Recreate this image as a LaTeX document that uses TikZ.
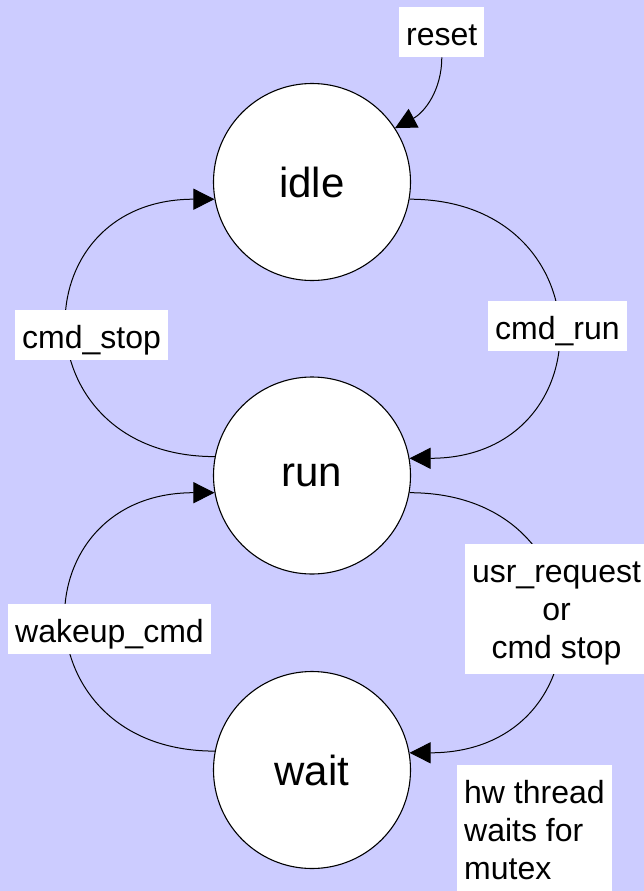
\documentclass[tikz,border=0pt]{standalone}
\usepackage{fontspec}
\setmainfont{Liberation Sans}
\usetikzlibrary{arrows.meta}
\definecolor{bgcol}{HTML}{CCCCFF}
\tikzset{
  state/.style={circle, draw=black, fill=white, line width=1.1pt, minimum size=197pt, inner sep=0pt, font=\fontsize{42}{50}\selectfont},
  lab/.style={fill=white, inner xsep=7pt, inner ysep=0pt, text height=38pt, text depth=12pt, font=\fontsize{32}{38}\selectfont},
  mlab/.style={fill=white, inner xsep=7pt, inner ysep=0pt, font=\fontsize{32}{38}\selectfont},
  trans/.style={line width=1pt, -{Triangle[length=21pt,width=21pt]}},
}
\begin{document}
\begin{tikzpicture}[x=1pt,y=-1pt]
\fill[bgcol] (0,0) rectangle (644,891);
\useasboundingbox (0,0) rectangle (644,891);
\node[state] (idle) at (312,182) {idle};
\node[state] (run) at (312,475.5) {run};
\node[state] (wait) at (312,770) {wait};
\draw[trans] (run.169.5) to[out=180,in=180,looseness=1.95] (idle.190.5);
\draw[trans] (idle.-10.5) to[out=0,in=0,looseness=1.95] (run.10.5);
\draw[trans] (run.-10.5) to[out=0,in=0,looseness=1.97] (wait.10.5);
\draw[trans] (wait.169.5) to[out=180,in=180,looseness=1.95] (run.190.5);
\node[lab, anchor=north west] (reset) at (399,7) {reset};
\draw[trans] (reset.south) to[out=-90,in=28] (idle.33);
\node[lab, anchor=north west] (cstop) at (15,310) {cmd\_stop};
\node[lab, anchor=north west] (crun) at (488,301) {cmd\_run};
\node[lab, anchor=north west] (wake) at (8,604) {wakeup\_cmd};
\node[mlab, anchor=north, align=center] (usr) at (556.5,544) {\rule{0pt}{38pt}usr\_request\\or\\cmd stop\rule[-16pt]{0pt}{16pt}};
\node[mlab, anchor=north west, align=left, inner xsep=7pt] (hw) at (457,765) {\rule{0pt}{38pt}hw thread\\waits for\\mutex\rule[-16pt]{0pt}{16pt}};
\end{tikzpicture}
\end{document}
